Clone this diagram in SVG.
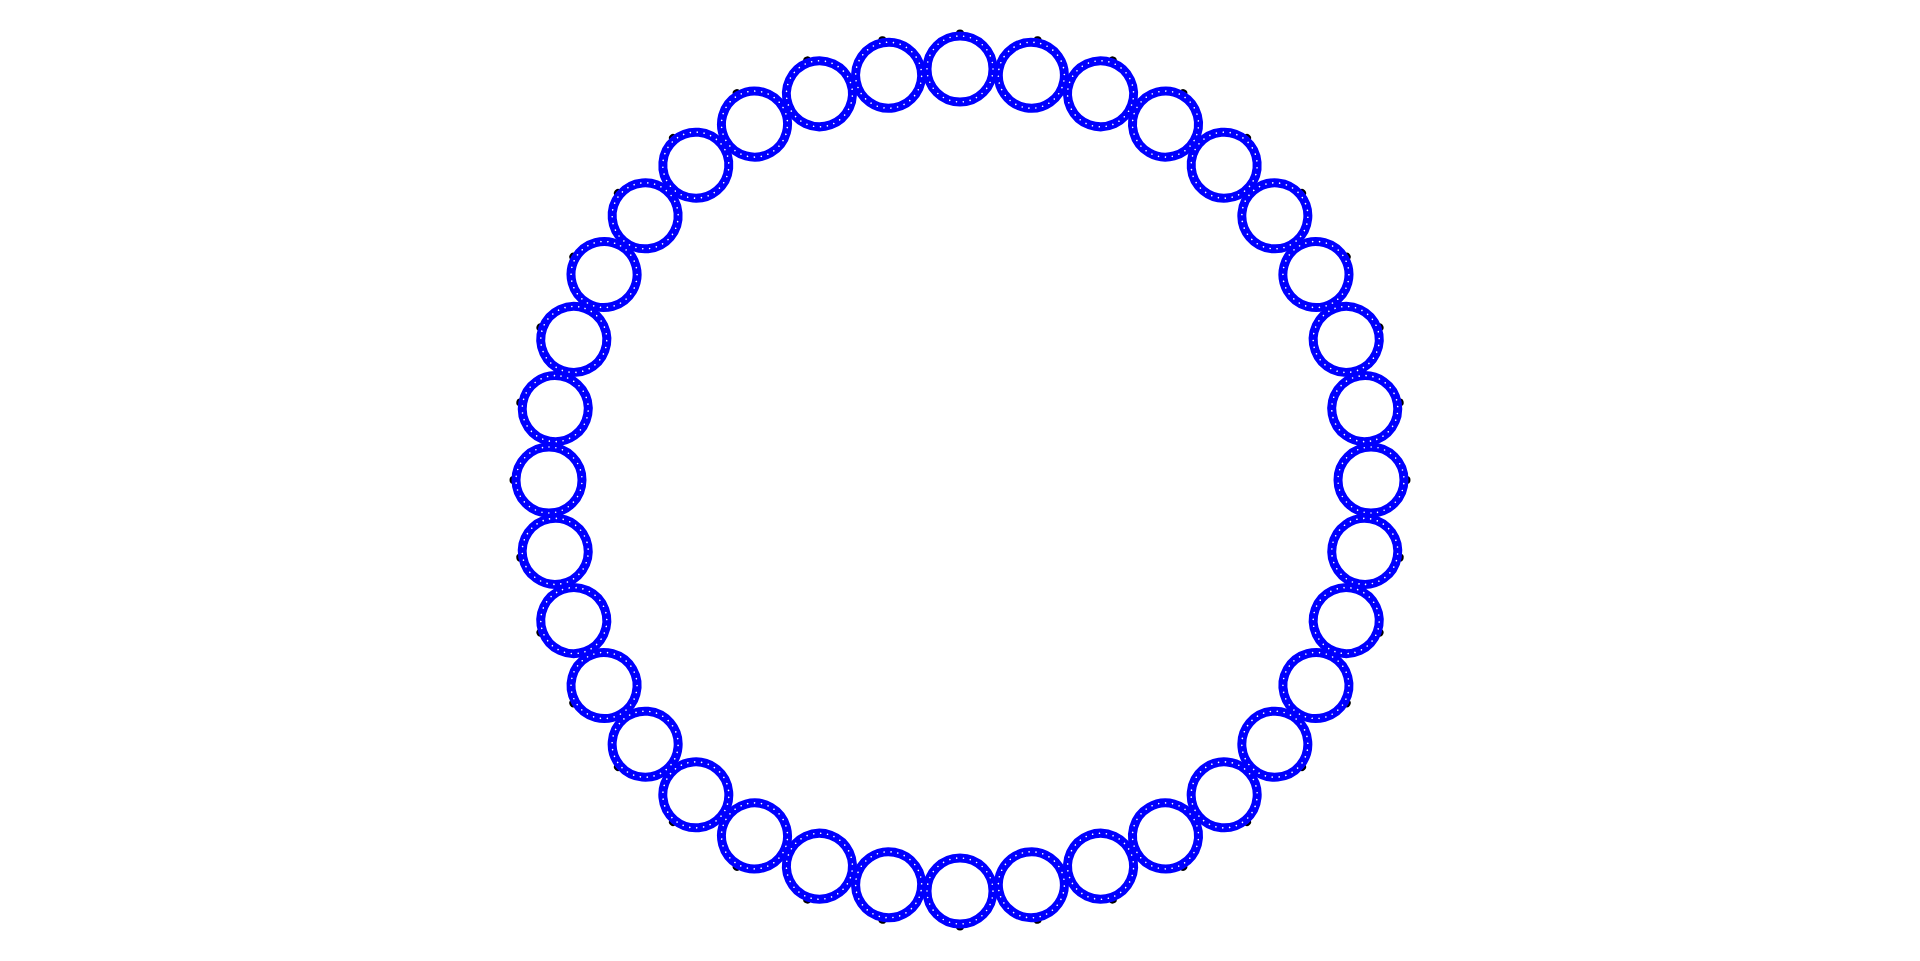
<svg xmlns="http://www.w3.org/2000/svg" xmlns:xlink="http://www.w3.org/1999/xlink" width="1920" height="961" viewBox="0 0 1920 961">
<defs>
<style>
.ring{fill:none;stroke:#0000ff;stroke-width:9}
.holes{fill:none;stroke:#ffffff;stroke-width:1.6;stroke-linecap:round;stroke-dasharray:0 6.912}
.tip{fill:#000000}
</style>
<g id="loop">
<circle class="tip" cx="960" cy="33.5" r="4"/>
<circle class="ring" cx="960" cy="69" r="33"/>
<circle class="holes" cx="960" cy="69" r="33"/>
</g>
</defs>
<rect x="0" y="0" width="1920" height="961" fill="#ffffff"/>
<g id="node-0"><use href="#loop" xlink:href="#loop"/></g>
<g id="node-1" transform="rotate(10 960 480)"><use href="#loop" xlink:href="#loop"/></g>
<g id="node-2" transform="rotate(20 960 480)"><use href="#loop" xlink:href="#loop"/></g>
<g id="node-3" transform="rotate(30 960 480)"><use href="#loop" xlink:href="#loop"/></g>
<g id="node-4" transform="rotate(40 960 480)"><use href="#loop" xlink:href="#loop"/></g>
<g id="node-5" transform="rotate(50 960 480)"><use href="#loop" xlink:href="#loop"/></g>
<g id="node-6" transform="rotate(60 960 480)"><use href="#loop" xlink:href="#loop"/></g>
<g id="node-7" transform="rotate(70 960 480)"><use href="#loop" xlink:href="#loop"/></g>
<g id="node-8" transform="rotate(80 960 480)"><use href="#loop" xlink:href="#loop"/></g>
<g id="node-9" transform="rotate(90 960 480)"><use href="#loop" xlink:href="#loop"/></g>
<g id="node-10" transform="rotate(100 960 480)"><use href="#loop" xlink:href="#loop"/></g>
<g id="node-11" transform="rotate(110 960 480)"><use href="#loop" xlink:href="#loop"/></g>
<g id="node-12" transform="rotate(120 960 480)"><use href="#loop" xlink:href="#loop"/></g>
<g id="node-13" transform="rotate(130 960 480)"><use href="#loop" xlink:href="#loop"/></g>
<g id="node-14" transform="rotate(140 960 480)"><use href="#loop" xlink:href="#loop"/></g>
<g id="node-15" transform="rotate(150 960 480)"><use href="#loop" xlink:href="#loop"/></g>
<g id="node-16" transform="rotate(160 960 480)"><use href="#loop" xlink:href="#loop"/></g>
<g id="node-17" transform="rotate(170 960 480)"><use href="#loop" xlink:href="#loop"/></g>
<g id="node-18" transform="rotate(180 960 480)"><use href="#loop" xlink:href="#loop"/></g>
<g id="node-19" transform="rotate(190 960 480)"><use href="#loop" xlink:href="#loop"/></g>
<g id="node-20" transform="rotate(200 960 480)"><use href="#loop" xlink:href="#loop"/></g>
<g id="node-21" transform="rotate(210 960 480)"><use href="#loop" xlink:href="#loop"/></g>
<g id="node-22" transform="rotate(220 960 480)"><use href="#loop" xlink:href="#loop"/></g>
<g id="node-23" transform="rotate(230 960 480)"><use href="#loop" xlink:href="#loop"/></g>
<g id="node-24" transform="rotate(240 960 480)"><use href="#loop" xlink:href="#loop"/></g>
<g id="node-25" transform="rotate(250 960 480)"><use href="#loop" xlink:href="#loop"/></g>
<g id="node-26" transform="rotate(260 960 480)"><use href="#loop" xlink:href="#loop"/></g>
<g id="node-27" transform="rotate(270 960 480)"><use href="#loop" xlink:href="#loop"/></g>
<g id="node-28" transform="rotate(280 960 480)"><use href="#loop" xlink:href="#loop"/></g>
<g id="node-29" transform="rotate(290 960 480)"><use href="#loop" xlink:href="#loop"/></g>
<g id="node-30" transform="rotate(300 960 480)"><use href="#loop" xlink:href="#loop"/></g>
<g id="node-31" transform="rotate(310 960 480)"><use href="#loop" xlink:href="#loop"/></g>
<g id="node-32" transform="rotate(320 960 480)"><use href="#loop" xlink:href="#loop"/></g>
<g id="node-33" transform="rotate(330 960 480)"><use href="#loop" xlink:href="#loop"/></g>
<g id="node-34" transform="rotate(340 960 480)"><use href="#loop" xlink:href="#loop"/></g>
<g id="node-35" transform="rotate(350 960 480)"><use href="#loop" xlink:href="#loop"/></g>
</svg>
